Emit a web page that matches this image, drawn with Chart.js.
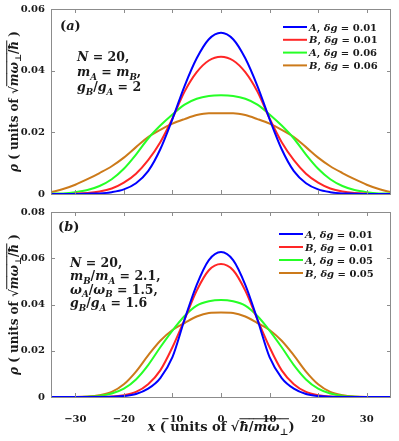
<!DOCTYPE html>
<html lang="en">
<head>
    <meta charset="UTF-8">
    <title>Density profiles</title>
    <script src="https://cdn.jsdelivr.net/npm/chart.js"></script>
    <style>
        body { margin: 0; background: #fff; }
        #wrap { position: relative; width: 399px; height: 441px; }
        canvas { position: absolute; left: 0; }
    </style>
</head>
<body>
<div id="wrap">
    <canvas id="topChart" width="399" height="200" style="top:0"></canvas>
    <canvas id="botChart" width="399" height="241" style="top:200px"></canvas>
</div>
<script>
// x grid (units of sqrt(hbar/m w_perp))
var xs = [-35, -32.5, -30, -27.5, -25, -22.5, -20, -17.5, -15, -12.5, -10, -7.5, -5, -2.5, 0,
          2.5, 5, 7.5, 10, 12.5, 15, 17.5, 20, 22.5, 25, 27.5, 30, 32.5, 35];
var xTickValues = [-30, -20, -10, 0, 10, 20, 30];
var yTicksTop = [0, 0.02, 0.04, 0.06];
var yTicksBot = [0, 0.02, 0.04, 0.06, 0.08];

// panel (a)
var species = ['A', 'B', 'A', 'B'];
var dgTop = ['0.01', '0.01', '0.06', '0.06'];
var aBlue   = [0, 0, 0, .0001, .0002, .0006, .0015, .0035, .0074, .0145, .0243, .0350, .0440, .0502, .0523,
               .0502, .0440, .0350, .0243, .0145, .0074, .0035, .0015, .0006, .0002, .0001, 0, 0, 0];
var aRed    = [0, 0, .0001, .0003, .0008, .0018, .0037, .0066, .0110, .0168, .0245, .0332, .0395, .0433, .0445,
               .0433, .0395, .0332, .0245, .0168, .0110, .0066, .0037, .0018, .0008, .0003, .0001, 0, 0];
var aGreen  = [.0001, .0002, .0006, .0013, .0026, .0048, .0082, .0128, .0180, .0222, .0258, .0290, .0309, .0318, .0320,
               .0318, .0309, .0290, .0258, .0222, .0180, .0128, .0082, .0048, .0026, .0013, .0006, .0002, .0001];
var aOrange = [.0006, .0016, .0030, .0048, .0068, .0090, .0118, .0152, .0185, .0208, .0228, .0243, .0256, .0262, .0262,
               .0262, .0256, .0243, .0228, .0208, .0185, .0152, .0118, .0090, .0068, .0048, .0030, .0016, .0006];

// panel (b)
var dgBot = ['0.01', '0.01', '0.05', '0.05'];
var bBlue   = [0, 0, 0, 0, 0, .0001, .0004, .0013, .0036, .0082, .0172, .0335, .0485, .0592, .0627,
               .0592, .0485, .0335, .0172, .0082, .0036, .0013, .0004, .0001, 0, 0, 0, 0, 0];
var bRed    = [0, 0, 0, 0, .0001, .0002, .0008, .0022, .0055, .0115, .0215, .0335, .0460, .0548, .0575,
               .0548, .0460, .0335, .0215, .0115, .0055, .0022, .0008, .0002, .0001, 0, 0, 0, 0];
var bGreen  = [0, 0, 0, .0001, .0005, .0015, .0036, .0076, .0138, .0215, .0287, .0350, .0395, .0414, .0420,
               .0414, .0395, .0350, .0287, .0215, .0138, .0076, .0036, .0015, .0005, .0001, 0, 0, 0];
var bOrange = [0, 0, 0, .0002, .0008, .0022, .0055, .0110, .0180, .0243, .0290, .0320, .0348, .0363, .0365,
               .0363, .0348, .0320, .0290, .0243, .0180, .0110, .0055, .0022, .0008, .0002, 0, 0, 0];

var colors = ['#0000ff', '#ff2626', '#26ff26', '#cc7a1a'];
var FONT = '"DejaVu Serif", "Liberation Serif", serif';
var INK = '#1a1a1a';

// ---- small rich text helper (italic / subscript / overline segments) ----
function segFont(s, size) {
    var sz = s.sub ? size * 0.7 : size;
    return (s.it ? 'italic ' : '') + 'bold ' + sz + 'px ' + FONT;
}
function richWidth(ctx, segs, size) {
    var w = 0;
    segs.forEach(function(s) { ctx.font = segFont(s, size); w += ctx.measureText(s.t).width; });
    return w;
}
function drawRich(ctx, segs, x, y, size, align) {
    var cx = align === 'center' ? x - richWidth(ctx, segs, size) / 2 : x;
    ctx.textAlign = 'left';
    ctx.textBaseline = 'alphabetic';
    ctx.fillStyle = INK;
    segs.forEach(function(s) {
        ctx.font = segFont(s, size);
        var w = ctx.measureText(s.t).width;
        ctx.fillText(s.t, cx, y + (s.sub ? size * 0.28 : 0));
        if (s.over) ctx.fillRect(cx, y - size * 0.98, w + 0.5, 1);
        cx += w;
    });
}
function sub(t) { return {t: t, it: 1, sub: 1}; }
function it(t) { return {t: t, it: 1}; }
function tx(t) { return {t: t}; }

var yTitle = [it('ρ'), tx(' ( units of '), tx('√'), {t: 'm', it: 1, over: 1}, {t: 'ω', it: 1, over: 1},
              {t: '⊥', sub: 1, over: 1}, {t: '/', over: 1}, {t: 'ħ', it: 1, over: 1}, tx(' )')];
var xTitle = [it('x'), tx(' ( units of '), tx('√'), {t: 'ħ', it: 1, over: 1}, {t: '/', over: 1},
              {t: 'm', it: 1, over: 1}, {t: 'ω', it: 1, over: 1}, {t: '⊥', sub: 1, over: 1}, tx(')')];

var notesTop = [
    [it('N'), tx(' = 20,')],
    [it('m'), sub('A'), tx(' = '), it('m'), sub('B'), tx(',')],
    [it('g'), sub('B'), tx('/'), it('g'), sub('A'), tx(' = 2')]
];
var notesBot = [
    [it('N'), tx(' = 20,')],
    [it('m'), sub('B'), tx('/'), it('m'), sub('A'), tx(' = 2.1,')],
    [it('ω'), sub('A'), tx('/'), it('ω'), sub('B'), tx(' = 1.5,')],
    [it('g'), sub('B'), tx('/'), it('g'), sub('A'), tx(' = 1.6')]
];

function tickFmt(v) { return v === 0 ? '0' : v.toFixed(2); }

var decor = {
    id: 'decor',
    afterDraw: function(chart, args, o) {
        var ctx = chart.ctx, a = chart.chartArea;
        var xs_ = chart.scales.x, ys_ = chart.scales.y;
        ctx.save();
        // box + inward ticks
        ctx.strokeStyle = '#8c8c8c';
        ctx.lineWidth = 1;
        ctx.strokeRect(a.left + 0.5, a.top + 0.5, a.right - a.left - 1, a.bottom - a.top);
        ctx.beginPath();
        xTickValues.forEach(function(v) {
            var p = Math.round(xs_.getPixelForValue(v)) + 0.5;
            ctx.moveTo(p, a.bottom); ctx.lineTo(p, a.bottom - 4);
            ctx.moveTo(p, a.top); ctx.lineTo(p, a.top + 4);
        });
        o.yTicks.forEach(function(v) {
            var p = Math.round(ys_.getPixelForValue(v)) + 0.5;
            ctx.moveTo(a.left, p); ctx.lineTo(a.left + 4, p);
            ctx.moveTo(a.right, p); ctx.lineTo(a.right - 4, p);
        });
        ctx.stroke();

        // y tick labels (drawn here so they do not push the plot area)
        ctx.fillStyle = INK;
        ctx.font = 'bold 10px ' + FONT;
        ctx.textAlign = 'right';
        ctx.textBaseline = 'middle';
        o.yTicks.forEach(function(v) {
            ctx.fillText(tickFmt(v), a.left - 6, ys_.getPixelForValue(v));
        });

        // panel tag and parameter notes
        drawRich(ctx, [tx('('), it(o.tag), tx(')')], o.tagX, o.tagY, 13);
        o.notes.forEach(function(line, i) {
            drawRich(ctx, line, o.noteX, o.noteY[i], 12.5);
        });

        // legend
        chart.data.datasets.forEach(function(ds, i) {
            var y = o.legY + i * o.legDy;
            ctx.strokeStyle = ds.borderColor;
            ctx.lineWidth = 2;
            ctx.beginPath();
            ctx.moveTo(o.legX, y); ctx.lineTo(o.legX + 24, y);
            ctx.stroke();
            drawRich(ctx, [it(ds.sp), tx(', '), it('δg'), tx(' = ' + ds.dg)], o.legX + 26, y + 3.5, 10);
        });

        // y title
        ctx.translate(o.yTitleX, (a.top + a.bottom) / 2);
        ctx.rotate(-Math.PI / 2);
        drawRich(ctx, yTitle, 0, 0, 12, 'center');
        ctx.setTransform(1, 0, 0, 1, 0, 0);
        if (o.xTitleY) drawRich(ctx, xTitle, (a.left + a.right) / 2, o.xTitleY, 13, 'center');
        ctx.restore();
    }
};

function makeDatasets(series, dgs) {
    return series.map(function(vals, i) {
        return {
            label: species[i] + ', δg = ' + dgs[i],
            sp: species[i],
            dg: dgs[i],
            data: xs.map(function(x, j) { return {x: x, y: vals[j]}; }),
            borderColor: colors[i],
            borderWidth: 2,
            pointRadius: 0,
            cubicInterpolationMode: 'monotone',
            fill: false
        };
    });
}

function makeChart(id, datasets, yMax, yTicks, showX, padding, decorOpts) {
    return new Chart(document.getElementById(id).getContext('2d'), {
        type: 'line',
        data: {datasets: datasets},
        options: {
            responsive: false,
            animation: false,
            layout: {padding: padding},
            plugins: {legend: {display: false}, tooltip: {enabled: false}, decor: decorOpts},
            scales: {
                x: {
                    type: 'linear', min: -35, max: 35,
                    display: showX,
                    afterBuildTicks: function(s) { s.ticks = xTickValues.map(function(v) { return {value: v}; }); },
                    afterFit: function(s) { s.height = showX ? 44 : 0; },
                    grid: {display: false},
                    border: {display: false},
                    ticks: {
                        padding: 8, color: INK, maxRotation: 0,
                        font: {family: FONT, size: 10, weight: 'bold'},
                        callback: function(v) { return String(v).replace('-', '−'); }
                    }
                },
                y: {
                    min: 0, max: yMax,
                    afterFit: function(s) { s.width = 51; },
                    grid: {display: false},
                    border: {display: false},
                    ticks: {display: false}
                }
            }
        },
        plugins: [decor]
    });
}

makeChart('topChart', makeDatasets([aBlue, aRed, aGreen, aOrange], dgTop), 0.06, yTicksTop, false,
    {left: 0, right: 8, top: 9, bottom: 6},
    {yTicks: yTicksTop, tag: 'a', tagX: 60, tagY: 30, notes: notesTop, noteX: 77, noteY: [61, 76, 91],
     legX: 283, legY: 27, legDy: 12.8, yTitleX: 18});

makeChart('botChart', makeDatasets([bBlue, bRed, bGreen, bOrange], dgBot), 0.08, yTicksBot, true,
    {left: 0, right: 8, top: 12, bottom: 0},
    {yTicks: yTicksBot, tag: 'b', tagX: 58, tagY: 31, notes: notesBot, noteX: 70, noteY: [67, 80, 93.5, 107],
     legX: 279, legY: 34, legDy: 13, yTitleX: 18, xTitleY: 231});
</script>
</body>
</html>
